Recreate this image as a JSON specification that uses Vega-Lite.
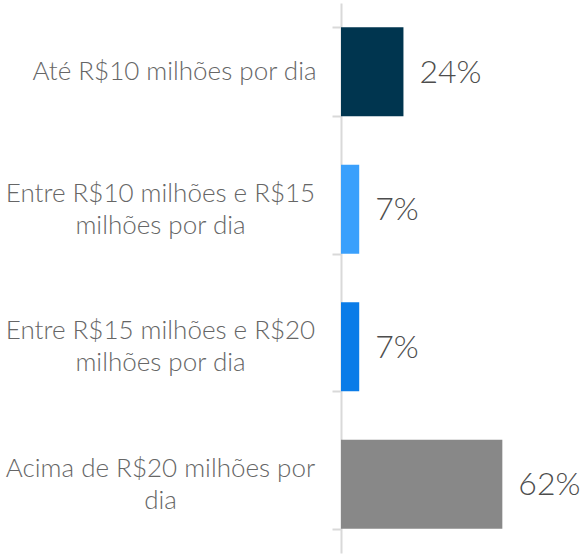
{
  "$schema": "https://vega.github.io/schema/vega-lite/v6.json",
  "autosize": "none",
  "width": 242,
  "height": 550,
  "padding": {"left": 341, "top": 3, "right": 0, "bottom": 1},
  "background": "white",
  "config": {"view": {"stroke": null}},
  "data": {
    "values": [
      {"cat": "Até R$10 milhões por dia", "value": 24, "label": "24%", "color": "#00354F"},
      {"cat": "Entre R$10 milhões e R$15|milhões por dia", "value": 7, "label": "7%", "color": "#3AA0FC"},
      {"cat": "Entre R$15 milhões e R$20|milhões por dia", "value": 7, "label": "7%", "color": "#0A7CE8"},
      {"cat": "Acima de R$20 milhões por|dia", "value": 62, "label": "62%", "color": "#888888"}
    ]
  },
  "encoding": {
    "y": {
      "field": "cat",
      "type": "nominal",
      "sort": null,
      "title": null,
      "scale": {"paddingInner": 0.353, "paddingOuter": 0.1765},
      "axis": {
        "labelExpr": "isValid(datum.value) ? split(datum.value, '|') : ''",
        "labelFont": "Lato",
        "labelFontWeight": 300,
        "labelFontSize": 26,
        "labelColor": "#666666",
        "labelLineHeight": 32,
        "labelAlign": "center",
        "labelBaseline": "middle",
        "labelPadding": {"expr": "datum.value == 'Até R$10 milhões por dia' ? 158 : 172"},
        "labelOffset": {"expr": "isValid(datum.value) && indexof(datum.value, '|') >= 0 ? -16 : 0"},
        "labelLimit": 400,
        "domainColor": "#d9d9d9",
        "domainWidth": 2,
        "tickColor": "#d9d9d9",
        "tickWidth": 2,
        "tickSize": 9,
        "tickBand": "extent"
      }
    },
    "x": {
      "field": "value",
      "type": "quantitative",
      "scale": {"domain": [0, 93]},
      "axis": null
    }
  },
  "layer": [
    {
      "mark": {"type": "bar"},
      "encoding": {"color": {"field": "color", "type": "nominal", "scale": null}}
    },
    {
      "mark": {"type": "text", "align": "left", "baseline": "middle", "dx": 16, "dy": 1, "font": "Lato", "fontWeight": 300, "fontSize": 32, "color": "#4d4d4d"},
      "encoding": {"text": {"field": "label"}}
    }
  ]
}
